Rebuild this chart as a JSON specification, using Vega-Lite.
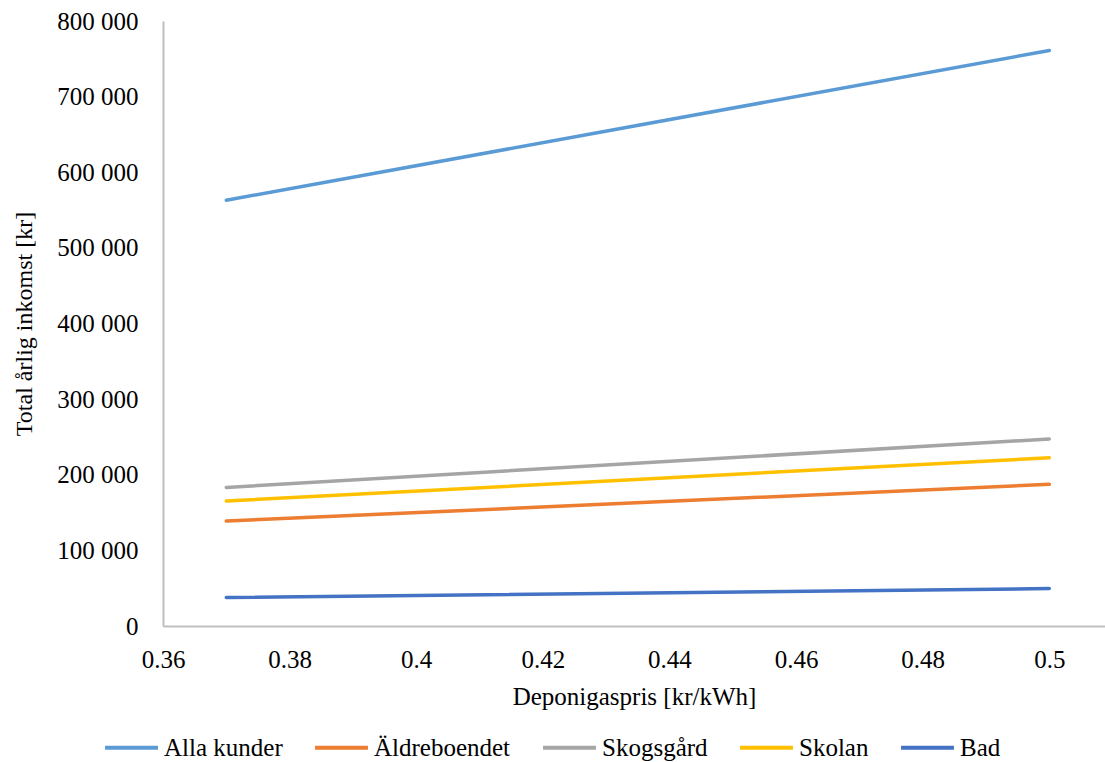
{
  "$schema": "https://vega.github.io/schema/vega-lite/v6.json",
  "width": 942,
  "height": 605,
  "autosize": {"type": "none"},
  "padding": {"left": 163, "top": 21, "right": 0, "bottom": 136},
  "background": "white",
  "config": {
    "font": "Liberation Serif, Times New Roman, serif",
    "view": {"stroke": null},
    "axis": {"labelFont": "Liberation Serif, Times New Roman, serif", "titleFont": "Liberation Serif, Times New Roman, serif", "labelColor": "#000", "titleColor": "#000", "titleFontWeight": "normal"},
    "legend": {"labelFont": "Liberation Serif, Times New Roman, serif"}
  },
  "data": {
    "values": [
      {"pris": 0.37, "inkomst": 563000, "serie": "Alla kunder"},
      {"pris": 0.5, "inkomst": 761000, "serie": "Alla kunder"},
      {"pris": 0.37, "inkomst": 138700, "serie": "Äldreboendet"},
      {"pris": 0.5, "inkomst": 187300, "serie": "Äldreboendet"},
      {"pris": 0.37, "inkomst": 183300, "serie": "Skogsgård"},
      {"pris": 0.5, "inkomst": 247300, "serie": "Skogsgård"},
      {"pris": 0.37, "inkomst": 165200, "serie": "Skolan"},
      {"pris": 0.5, "inkomst": 222500, "serie": "Skolan"},
      {"pris": 0.37, "inkomst": 37600, "serie": "Bad"},
      {"pris": 0.5, "inkomst": 49500, "serie": "Bad"}
    ]
  },
  "mark": {"type": "line", "strokeWidth": 3.5, "strokeCap": "round"},
  "encoding": {
    "x": {
      "field": "pris",
      "type": "quantitative",
      "scale": {"domain": [0.36, 0.5088], "nice": false, "zero": false},
      "axis": {
        "title": "Deponigaspris [kr/kWh]",
        "values": [0.36, 0.38, 0.4, 0.42, 0.44, 0.46, 0.48, 0.5],
        "labelExpr": "format(datum.value, '.2~f')",
        "grid": false,
        "ticks": false,
        "domainColor": "#BFBFBF",
        "domainWidth": 2,
        "labelFontSize": 25,
        "labelPadding": 21,
        "labelFlush": false,
        "titleFontSize": 25,
        "titlePadding": 12
      }
    },
    "y": {
      "field": "inkomst",
      "type": "quantitative",
      "scale": {"domain": [0, 800000], "nice": false},
      "axis": {
        "title": "Total årlig inkomst [kr]",
        "values": [0, 100000, 200000, 300000, 400000, 500000, 600000, 700000, 800000],
        "labelExpr": "replace(format(datum.value, ',d'), /,/g, ' ')",
        "grid": false,
        "ticks": false,
        "domainColor": "#BFBFBF",
        "domainWidth": 2,
        "labelFontSize": 25,
        "labelPadding": 25,
        "labelFlush": false,
        "titleFontSize": 24,
        "titlePadding": 20
      }
    },
    "color": {
      "field": "serie",
      "type": "nominal",
      "scale": {
        "domain": ["Alla kunder", "Äldreboendet", "Skogsgård", "Skolan", "Bad"],
        "range": ["#5B9BD5", "#ED7D31", "#A5A5A5", "#FFC000", "#4472C4"]
      },
      "legend": {
        "title": null,
        "orient": "none",
        "direction": "horizontal",
        "legendX": -60,
        "legendY": 698,
        "symbolType": "stroke",
        "symbolSize": 2800,
        "symbolStrokeWidth": 4,
        "labelFontSize": 25,
        "labelColor": "#000",
        "labelOffset": 4,
        "columnPadding": 24
      }
    }
  }
}
